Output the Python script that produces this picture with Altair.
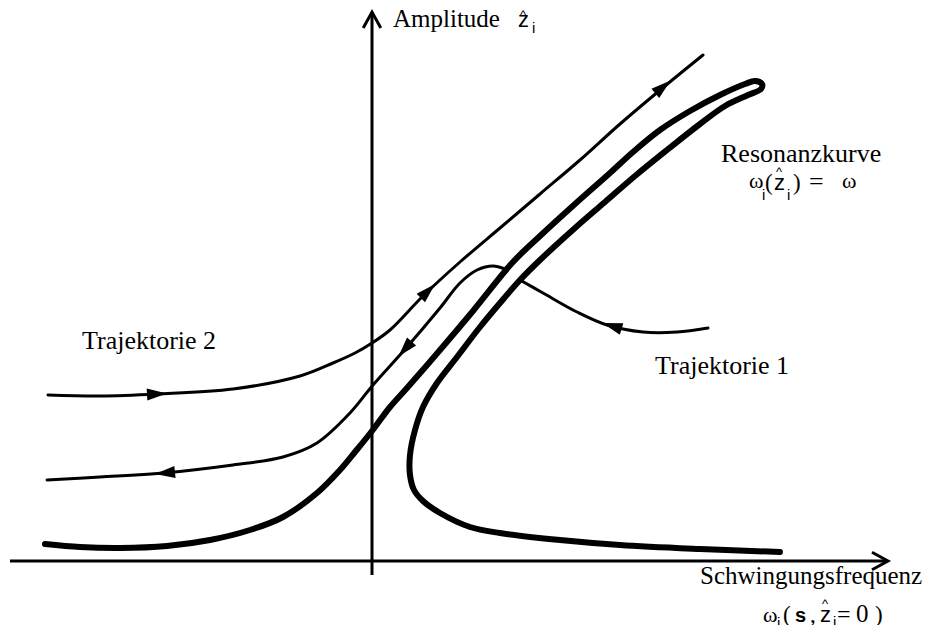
import altair as alt
import pandas as pd

# Diagram units: x = frequency offset from the amplitude axis, y = amplitude above the frequency axis
# Resonance curve (one continuous hairpin: left branch up, tip, right branch down, lower tail)
res_x = [-327, -292, -252, -205, -162, -122, -89, -55, -32, -17, 0, 18, 35, 68, 101, 141, 168, 203, 238,
         261, 288, 318, 348, 373, 383, 390, 389, 376, 353, 328, 295, 263, 233, 203, 168, 148, 128, 108, 85, 65,
         51, 43, 38, 38, 42, 51, 68, 98, 128, 188, 248, 328, 408]
res_y = [17, 14, 13, 15, 21, 31, 44, 68, 91, 109, 130, 154, 173, 211, 250, 299, 325, 357, 388,
         409, 431, 450, 466, 477, 480, 477, 472, 466, 455, 437, 411, 385, 359, 333, 301, 281, 258, 234, 204, 178,
         154, 131, 106, 86, 71, 60, 48, 34, 28, 21, 16, 12, 9]

# Trajektorie 2, upper branch (runs to the right / upward)
t2a_x = [-324, -272, -215, -139, -72, -39, -17, 0, 18, 51, 88, 128, 168, 208, 248, 293, 331]
t2a_y = [166, 165, 167, 172, 185, 198, 208, 218, 231, 265, 299, 333, 367, 401, 437, 475, 506]

# Trajektorie 2, lower branch (runs back to the left)
t2b_x = [133, 121, 105, 88, 68, 35, 1, -22, -55, -89, -139, -209, -272, -325]
t2b_y = [292, 295, 291, 278, 253, 214, 176, 148, 118, 104, 96, 88, 84, 81]

# Trajektorie 1
t1_x = [148, 171, 205, 235, 271, 305, 336]
t1_y = [281, 268, 249, 236, 229, 229, 233]

# Direction arrows on the trajectories
arr_x = [-215, 56, 291, 33, -207, 240]
arr_y = [167, 270, 474, 212, 88, 235]
arr_angle = [87, 46, 50, 221, 264, 287]

# Axes
axis_v = {"x": 0, "y": -14, "y2": 549}
axis_h = {"y": 0, "x": -362, "x2": 514}
axis_tip_x = [0, 516]
axis_tip_y = [549, 0]
axis_tip_angle = [0, 90]

# Text pieces: text, x, y (baseline), family, size, weight
labels = [
    ("Amplitude", 21, 534, "serif", 25, "normal"),
    ("z", 146, 534, "sans", 22, "normal"),
    ("^", 148, 542, "sans", 13, "normal"),
    ("i", 160, 528, "sans", 15, "normal"),
    ("Resonanzkurve", 349, 399, "serif", 26, "normal"),
    ("ω", 377, 373, "serif", 22, "normal"),
    ("i", 390, 361, "sans", 15, "normal"),
    ("(", 393, 371, "serif", 23, "normal"),
    ("z", 402, 371, "sans", 22, "normal"),
    ("^", 404, 385, "sans", 13, "normal"),
    ("i", 415, 361, "sans", 15, "normal"),
    (")", 421, 371, "serif", 23, "normal"),
    ("=", 437, 371, "serif", 26, "normal"),
    ("ω", 470, 373, "serif", 22, "normal"),
    ("Trajektorie 2", -290, 212, "serif", 26, "normal"),
    ("Trajektorie 1", 283, 187, "serif", 26, "normal"),
    ("Schwingungsfrequenz", 328, -23, "serif", 25, "normal"),
    ("ω", 391, -61, "serif", 22, "normal"),
    ("i", 405, -67, "sans", 15, "normal"),
    ("(", 411, -61, "serif", 23, "normal"),
    ("s", 423, -61, "sans", 20, "bold"),
    (",", 438, -61, "serif", 23, "normal"),
    ("z", 448, -61, "sans", 22, "normal"),
    ("^", 450, -47, "sans", 13, "normal"),
    ("i", 461, -66, "sans", 15, "normal"),
    ("=", 465, -61, "serif", 24, "normal"),
    ("0", 484, -61, "serif", 25, "normal"),
    (")", 503, -61, "serif", 23, "normal"),
]

# ---- build tables ----
rows = []
for name, xs_, ys_, w in [("res", res_x, res_y, 6), ("t2a", t2a_x, t2a_y, 3),
                          ("t2b", t2b_x, t2b_y, 3), ("t1", t1_x, t1_y, 3)]:
    for i, (a, b) in enumerate(zip(xs_, ys_)):
        rows.append({"curve": name, "i": i, "x": a, "y": b, "w": w})
curves = pd.DataFrame(rows)

xs = alt.Scale(domain=[-364, 553], nice=False, zero=False)
ys = alt.Scale(domain=[-64, 553], nice=False, zero=False)
X = lambda f="x": alt.X(f"{f}:Q", scale=xs, axis=None)
Y = lambda f="y": alt.Y(f"{f}:Q", scale=ys, axis=None)

lines = alt.Chart(curves).mark_line(
    interpolate="catmull-rom", color="black", strokeCap="round", strokeJoin="round"
).encode(
    x=X(), y=Y(), detail="curve:N", order="i:Q",
    strokeWidth=alt.StrokeWidth("w:Q", scale=None),
)

vrule = alt.Chart(pd.DataFrame([axis_v])).mark_rule(color="black", strokeWidth=3).encode(
    x=X(), y=Y(), y2="y2:Q")
hrule = alt.Chart(pd.DataFrame([axis_h])).mark_rule(color="black", strokeWidth=3).encode(
    y=Y(), x=X(), x2="x2:Q")

tips = alt.Chart(pd.DataFrame({"x": axis_tip_x, "y": axis_tip_y, "a": axis_tip_angle})).mark_point(
    shape="M-0.55,1L0,0L0.55,1", filled=False, size=1024, color="black", strokeWidth=3, opacity=1
).encode(x=X(), y=Y(), angle=alt.Angle("a:Q", scale=None))

arrows = alt.Chart(pd.DataFrame({"x": arr_x, "y": arr_y, "a": arr_angle})).mark_point(
    shape="M0,-1L0.6,1L-0.6,1Z", filled=True, size=400, color="black", opacity=1, strokeWidth=0
).encode(x=X(), y=Y(), angle=alt.Angle("a:Q", scale=None))

lab = pd.DataFrame(labels, columns=["t", "x", "y", "fam", "s", "wt"])
fonts = {"serif": "Liberation Serif", "sans": "Liberation Sans"}
text_layers = []
for (fam, wt), g in lab.groupby(["fam", "wt"]):
    text_layers.append(
        alt.Chart(g).mark_text(align="left", baseline="alphabetic", color="black",
                               font=fonts[fam], fontWeight=wt).encode(
            x=X(), y=Y(), text="t:N", size=alt.Size("s:Q", scale=None))
    )

chart = alt.layer(vrule, hrule, tips, lines, arrows, *text_layers).properties(
    width=917, height=617, padding=0, autosize=alt.AutoSizeParams(type="none"),
    background="white"
).configure_view(stroke=None)

chart.save("out.html", embed_options={"renderer": "svg", "actions": False})
